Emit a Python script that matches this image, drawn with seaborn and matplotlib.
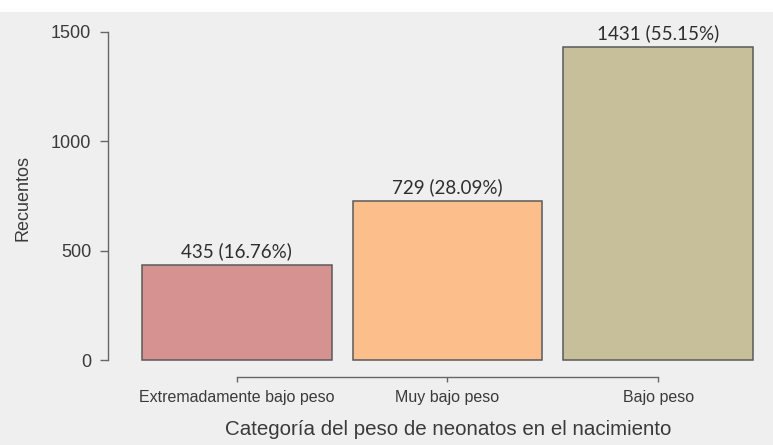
import matplotlib
matplotlib.use("Agg")
import matplotlib.pyplot as plt
import matplotlib.patches as mpatches
import pandas as pd
import seaborn as sns

# Birth-weight categories and their counts
categories = ["Extremadamente bajo peso", "Muy bajo peso", "Bajo peso"]
counts = [435, 729, 1431]
percent_labels = ["16.76%", "28.09%", "55.15%"]
bar_colors = ["#d69191", "#fcbf8c", "#c6bf99"]
y_ticks = [0, 500, 1000, 1500]

df = pd.DataFrame({"categoria": categories, "recuentos": counts})

sns.set_theme(style="white")
plt.rcParams["font.family"] = ["Liberation Sans", "DejaVu Sans"]

bg = "#efefef"
fig = plt.figure(figsize=(7.73, 4.45), dpi=100, facecolor=bg)
fig.patches.append(mpatches.Rectangle((0, 0.974), 1, 0.026, transform=fig.transFigure,
                                      facecolor="white", edgecolor="none", zorder=0))
ax = fig.add_axes([0.1397, 0.1528, 0.848, 0.836])
ax.set_facecolor(bg)

sns.barplot(data=df, x="categoria", y="recuentos", hue="categoria",
            palette=bar_colors, order=categories, hue_order=categories,
            width=0.9, edgecolor="#5a5a5a", linewidth=1.1, legend=False,
            saturation=1, ax=ax)

for i, (c, p) in enumerate(zip(counts, percent_labels)):
    ax.annotate(f"{c} ({p})", xy=(i, c), xytext=(0, 3.5), textcoords="offset points",
                ha="center", va="bottom", fontsize=13.5, color="#2e2e2e",
                family=["Lato", "DejaVu Sans"])

ax.set_xlim(-0.611, 2.5)
ax.set_ylim(-77.7, 1623.5)
ax.set_yticks(y_ticks)
ax.set_yticklabels([str(t) for t in y_ticks])

for side in ["top", "right"]:
    ax.spines[side].set_visible(False)
ax.spines["left"].set_bounds(0, 1500)
ax.spines["bottom"].set_bounds(0, 2)
for side in ["left", "bottom"]:
    ax.spines[side].set_color("#666666")
    ax.spines[side].set_linewidth(1.0)

ax.tick_params(axis="y", direction="out", length=6, width=1.0, color="#666666",
               pad=6, labelsize=13, labelcolor="#3a3a3a", left=True)
ax.tick_params(axis="x", direction="out", length=3.5, width=1.0, color="#666666",
               pad=6, labelsize=11.5, labelcolor="#3a3a3a", bottom=True)

ax.set_ylabel("Recuentos", fontsize=13, color="#3a3a3a")
ax.yaxis.set_label_coords(-0.117, 0.48)
ax.set_xlabel("Categoría del peso de neonatos en el nacimiento", fontsize=14.8,
              color="#3a3a3a")
ax.xaxis.set_label_coords(0.519, -0.115)

fig.savefig("out.png", dpi=100, facecolor=bg)
